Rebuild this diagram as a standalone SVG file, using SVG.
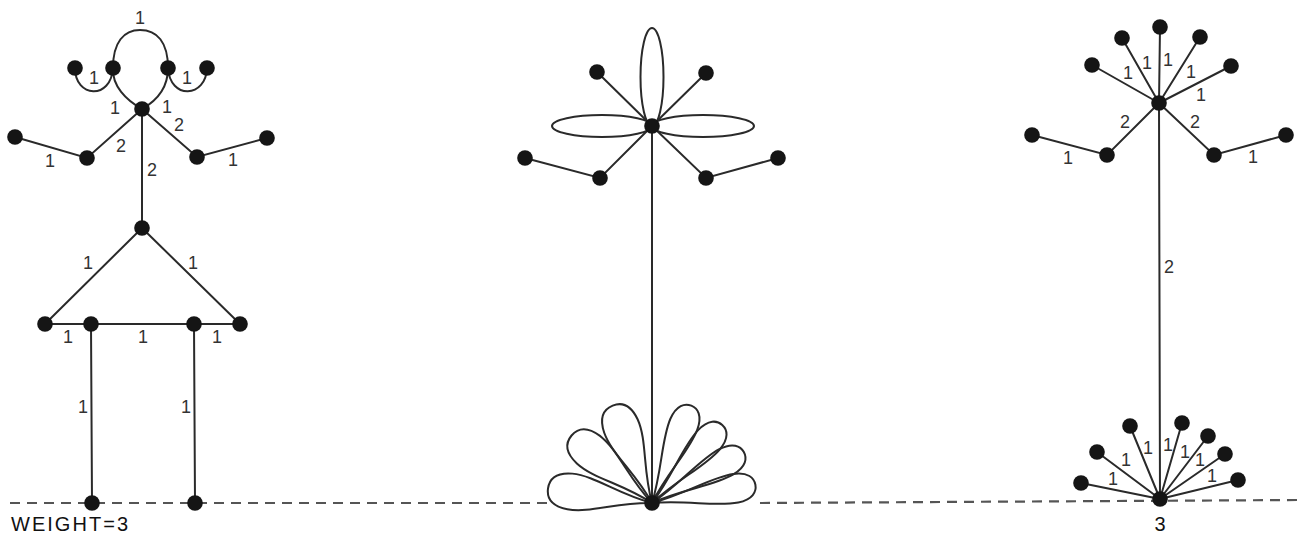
<svg xmlns="http://www.w3.org/2000/svg" width="1313" height="533" viewBox="0 0 1313 533">
<style>
.e{stroke:#2a2a2a;stroke-width:2;fill:none;stroke-linecap:round}
.d{stroke:#555;stroke-width:2.2;fill:none;stroke-dasharray:10 7}
.n{fill:#151515}
.l{font-family:"Liberation Sans",Arial,sans-serif;font-size:18px;fill:#333;text-anchor:middle}
.t{font-family:"Liberation Sans",Arial,sans-serif;font-size:20px;fill:#111}
</style>
<defs>
<path id="pw" d="M0,0 C35,-4 60,-19 83,-18 C100,-17 105,-9 105,0 C105,9 100,17 83,18 C60,19 35,4 0,0Z"/>
<path id="pn" d="M0,0 C35,-3 62,-15 85,-14.5 C100,-14 105,-7 105,0 C105,7 100,14 85,14.5 C62,15 35,3 0,0Z"/>
<circle id="nd" r="7.8"/>
</defs>
<rect width="1313" height="533" fill="#fff"/>
<g id="ground">
<line class="d" x1="10" y1="503" x2="548" y2="503"/>
<line class="d" x1="760" y1="503" x2="1300" y2="500"/>
</g>
<g id="connectors">
<path class="e" d="M142,109 C126,100 112,86 113,68 C113,42 124,30 140,30 C157,30 168,42 168,68 C168,86 158,100 142,109"/>
<path class="e" d="M75,68 C75,98 111,100 113,68"/>
<path class="e" d="M168,68 C170,100 206,98 207,68"/>
<polyline class="e" points="142,109 87,158 15,137"/>
<polyline class="e" points="142,109 197,157 267,138"/>
<line class="e" x1="142" y1="109" x2="142" y2="228"/>
<line class="e" x1="142" y1="228" x2="45" y2="324"/>
<line class="e" x1="142" y1="228" x2="240" y2="324"/>
<line class="e" x1="45" y1="324" x2="240" y2="324"/>
<line class="e" x1="91" y1="324" x2="92" y2="503"/>
<line class="e" x1="194" y1="324" x2="195" y2="503"/>
<ellipse class="e" cx="652" cy="77" rx="11.5" ry="49"/>
<ellipse class="e" cx="602" cy="126" rx="50" ry="11"/>
<ellipse class="e" cx="703" cy="126" rx="51" ry="11"/>
<line class="e" x1="652" y1="126" x2="597" y2="72"/>
<line class="e" x1="652" y1="126" x2="706" y2="73"/>
<polyline class="e" points="652,126 600,178 525,158"/>
<polyline class="e" points="652,126 706,178 778,158"/>
<line class="e" x1="652" y1="126" x2="652" y2="503"/>
<use href="#pw" class="e" transform="translate(652,503) rotate(-172)"/>
<use href="#pw" class="e" transform="translate(652,503) rotate(-140)"/>
<use href="#pw" class="e" transform="translate(652,503) rotate(-112)"/>
<use href="#pn" class="e" transform="translate(652,503) rotate(-68)"/>
<use href="#pn" class="e" transform="translate(652,503) rotate(-48)"/>
<use href="#pn" class="e" transform="translate(652,503) rotate(-29)"/>
<use href="#pn" class="e" transform="translate(652,503) rotate(-10)"/>
<line class="e" x1="1159" y1="103" x2="1160" y2="27"/>
<line class="e" x1="1159" y1="103" x2="1122" y2="38"/>
<line class="e" x1="1159" y1="103" x2="1092" y2="65"/>
<line class="e" x1="1159" y1="103" x2="1200" y2="37"/>
<line class="e" x1="1159" y1="103" x2="1231" y2="66"/>
<polyline class="e" points="1159,103 1107,155 1032,135"/>
<polyline class="e" points="1159,103 1214,155 1286,135"/>
<line class="e" x1="1159" y1="103" x2="1160" y2="499"/>
<line class="e" x1="1160" y1="499" x2="1081" y2="483"/>
<line class="e" x1="1160" y1="499" x2="1097" y2="452"/>
<line class="e" x1="1160" y1="499" x2="1130" y2="426"/>
<line class="e" x1="1160" y1="499" x2="1182" y2="423"/>
<line class="e" x1="1160" y1="499" x2="1208" y2="436"/>
<line class="e" x1="1160" y1="499" x2="1225" y2="454"/>
<line class="e" x1="1160" y1="499" x2="1238" y2="480"/>
</g>
<g id="stick-figure" class="n">
<use href="#nd" x="75" y="68"/><use href="#nd" x="113" y="68"/>
<use href="#nd" x="168" y="68"/><use href="#nd" x="207" y="68"/>
<use href="#nd" x="142" y="109"/>
<use href="#nd" x="15" y="137"/><use href="#nd" x="87" y="158"/>
<use href="#nd" x="197" y="157"/><use href="#nd" x="267" y="138"/>
<use href="#nd" x="142" y="228"/>
<use href="#nd" x="45" y="324"/><use href="#nd" x="91" y="324"/>
<use href="#nd" x="194" y="324"/><use href="#nd" x="240" y="324"/>
<use href="#nd" x="92" y="503"/><use href="#nd" x="195" y="503"/>
</g>
<g id="stick-labels">
<text class="l" x="140" y="24">1</text>
<text class="l" x="94" y="84">1</text>
<text class="l" x="187" y="84">1</text>
<text class="l" x="115" y="114">1</text>
<text class="l" x="167" y="113">1</text>
<text class="l" x="50" y="167">1</text>
<text class="l" x="121" y="152">2</text>
<text class="l" x="179" y="131">2</text>
<text class="l" x="233" y="166">1</text>
<text class="l" x="152" y="176">2</text>
<text class="l" x="88" y="269">1</text>
<text class="l" x="193" y="269">1</text>
<text class="l" x="68" y="343">1</text>
<text class="l" x="143" y="343">1</text>
<text class="l" x="217" y="343">1</text>
<text class="l" x="83" y="413">1</text>
<text class="l" x="186" y="413">1</text>
<text class="t" x="11" y="531" textLength="117">WEIGHT=3</text>
</g>
<g id="flower" class="n">
<use href="#nd" x="652" y="126"/>
<use href="#nd" x="597" y="72"/><use href="#nd" x="706" y="73"/>
<use href="#nd" x="600" y="178"/><use href="#nd" x="525" y="158"/>
<use href="#nd" x="706" y="178"/><use href="#nd" x="778" y="158"/>
<use href="#nd" x="652" y="503"/>
</g>
<g id="tree" class="n">
<use href="#nd" x="1159" y="103"/>
<use href="#nd" x="1160" y="27"/><use href="#nd" x="1122" y="38"/>
<use href="#nd" x="1092" y="65"/><use href="#nd" x="1200" y="37"/>
<use href="#nd" x="1231" y="66"/>
<use href="#nd" x="1107" y="155"/><use href="#nd" x="1032" y="135"/>
<use href="#nd" x="1214" y="155"/><use href="#nd" x="1286" y="135"/>
<use href="#nd" x="1160" y="499"/>
<use href="#nd" x="1081" y="483"/><use href="#nd" x="1097" y="452"/>
<use href="#nd" x="1130" y="426"/><use href="#nd" x="1182" y="423"/>
<use href="#nd" x="1208" y="436"/><use href="#nd" x="1225" y="454"/>
<use href="#nd" x="1238" y="480"/>
</g>
<g id="tree-labels">
<text class="l" x="1128" y="79">1</text>
<text class="l" x="1147" y="69">1</text>
<text class="l" x="1168" y="66">1</text>
<text class="l" x="1191" y="78">1</text>
<text class="l" x="1201" y="101">1</text>
<text class="l" x="1125" y="128">2</text>
<text class="l" x="1195" y="128">2</text>
<text class="l" x="1068" y="164">1</text>
<text class="l" x="1253" y="163">1</text>
<text class="l" x="1169" y="273">2</text>
<text class="l" x="1113" y="485">1</text>
<text class="l" x="1126" y="466">1</text>
<text class="l" x="1148" y="454">1</text>
<text class="l" x="1168" y="451">1</text>
<text class="l" x="1185" y="458">1</text>
<text class="l" x="1200" y="466">1</text>
<text class="l" x="1212" y="482">1</text>
<text class="t" x="1160" y="531" text-anchor="middle" font-size="21">3</text>
</g>
</svg>
